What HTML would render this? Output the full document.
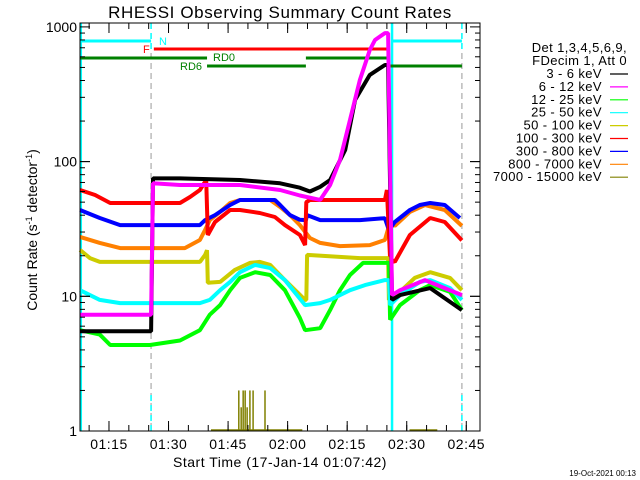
<!DOCTYPE html>
<html><head><meta charset="utf-8"><style>
html,body{margin:0;padding:0;background:#fff;}
svg{display:block;font-family:"Liberation Sans",sans-serif;}
</style></head><body>
<svg id="c" width="640" height="480" viewBox="0 0 640 480">
<text x="280" y="18" text-anchor="middle" font-size="17" letter-spacing="0.6">RHESSI Observing Summary Count Rates</text>
<g id="plot"></g>
<g id="axes"></g>
<text x="37" y="230" transform="rotate(-90 37 230)" text-anchor="middle" font-size="14">Count Rate (s<tspan baseline-shift="super" font-size="9">-1</tspan> detector<tspan baseline-shift="super" font-size="9">-1</tspan>)</text>
<text x="280" y="467" text-anchor="middle" font-size="14" letter-spacing="0.5">Start Time (17-Jan-14 01:07:42)</text>
<text x="636" y="476" text-anchor="end" font-size="8">19-Oct-2021 00:13</text>
<g id="legend"></g>
</svg>
<script>
// time in minutes after 01:07:42
const tBlack=[0,17.9,18.4,25.2,40.3,50.4,55.4,57.9,60.5,63.0,66.8,69.3,73.0,76.8,77.6,78.6,80.6,88.2,96.2];
const vBlack=[5.5,5.5,75,75,73,69,64,60,65,73,122,287,440,521,521,9.4,10.2,11.5,7.9];
const tMagenta=[0,17.9,18.4,25.2,40.3,50.4,55.4,60.5,63.0,65.5,68.0,70.5,73.0,74.3,76.8,77.6,78.6,80.6,86.9,96.2];
const vMagenta=[7.3,7.3,69,67,67,61.5,56,52,67,103,204,404,674,800,900,900,10.2,11.1,13.2,10.2];
const tGreen=[0,5,7.6,17.6,25.2,30.2,32.7,35.3,37.8,40.3,44.1,47.9,51.6,55.4,56.7,60.5,63.0,65.5,68.0,71.3,76.8,77.8,78.1,80.6,85.6,88.2,93.2,96.2];
const vGreen=[5.6,5.2,4.35,4.35,4.7,5.6,7.3,8.6,11.1,13.7,15.1,14.4,11.1,6.9,5.6,5.8,7.9,11.1,14.4,17.7,17.7,17.7,6.7,8.6,11.1,12.1,10.8,7.9];
const tCyan=[0,2.5,5,10.1,30.2,32.7,35.3,37.8,40.3,44.1,47.9,51.6,54.2,56.7,60.5,63.0,68.0,71.8,76.8,77.8,78.1,80.6,85.6,88.2,93.2,96.2];
const vCyan=[11.1,10.2,9.4,8.9,8.9,9.4,11.1,12.8,15.1,17.1,16.2,13.2,10.6,8.6,8.9,9.4,11.1,12.1,13.2,13.2,8.6,10.2,12.8,13.2,11.5,9.4];
const tYellow=[0,2.5,5,30.2,31.5,32.0,32.2,35.3,39.0,42.8,45.3,47.9,51.6,54.9,56.7,57.0,57.2,70.5,76.8,77.6,77.8,80.6,84.3,88.2,93.2,96.2];
const vYellow=[22.1,19.2,18,18,20.3,22,12.6,12.8,15.7,17.7,18,17.1,13.2,10.6,9.4,9.4,20.3,19.2,19.2,19.2,9.4,10.8,13.7,15.1,13.7,11.1];
const tRed=[0,3.8,7.6,25.2,27.7,30.2,31.8,32.2,34.0,37.8,40.3,45.3,49.1,51.6,55.4,56.7,57.0,57.9,70.5,76.8,77.3,78.1,79.3,83.1,88.2,91.9,96.2];
const vRed=[61.5,56.5,49.3,49.3,54.6,61.5,73,28.5,35.6,43.7,43.7,41.5,38.8,33.8,28.5,24,50,51.9,51.9,51.9,61.5,19,18,28.5,38.1,35.6,26];
const tBlue=[0,5,10.1,30.2,31.5,34.0,37.8,40.3,49.1,50.4,52.9,55.4,56.9,57.2,60.5,70.5,76.8,77.8,79.3,83.1,85.6,88.2,91.9,95.7];
const vBlue=[43.7,38.1,33.8,33.8,36.8,40.1,47.6,51.9,51.9,47.6,40.1,37,36.8,40.1,36.8,36.8,38,31,35.6,43.7,47.6,49.3,47.6,38.1];
const tOrange=[0,5,10.1,26.4,30.2,31.5,32.7,35.3,37.8,40.3,47.9,50.4,52.9,55.4,57.9,60.5,65.5,73.0,76.8,78.1,79.3,83.1,86.9,91.9,96.2];
const vOrange=[27.6,24.9,22.8,22.8,26.2,31.1,36.8,42.3,49.3,51.9,51.9,46,40.1,33.8,27.1,24.9,23.6,24,26.2,35.6,33.3,42.3,47.6,43.7,33.3];
const tOliveSpikes=[40.0,40.6,41.1,41.6,42.1,42.8,43.6,46.6];
const vOliveSpikes=[2,1.5,2,2,1.5,2,2,2];
const legendLabels=["3 - 6 keV","6 - 12 keV","12 - 25 keV","25 - 50 keV","50 - 100 keV","100 - 300 keV","300 - 800 keV","800 - 7000 keV","7000 - 15000 keV"];
const legendColors=["#000000","#ff00ff","#00ff00","#00ffff","#cccc00","#ff0000","#0000ff","#ff8000","#808000"];
const xTickLabels=["01:15","01:30","01:45","02:00","02:15","02:30","02:45"];
const xTickMinutes=[7.3,22.3,37.3,52.3,67.3,82.3,97.3];
const yTickValues=[1,10,100,1000];

const NS="http://www.w3.org/2000/svg";
const L=80,R=480,T=23,B=431;
const xS=t=>L+t*3.97;
const yS=v=>B-134.7*Math.log10(v);
function mk(tag,attrs,parent){const e=document.createElementNS(NS,tag);for(const k in attrs)e.setAttribute(k,attrs[k]);parent.appendChild(e);return e;}
const plot=document.getElementById('plot'),axes=document.getElementById('axes'),leg=document.getElementById('legend');

[17.9,96.2].forEach(t=>{
  const a=mk('line',{x1:xS(t),x2:xS(t),y1:T,y2:B,stroke:'#999',"stroke-width":1,"stroke-dasharray":"6,4"},plot);
  
  
  const b=mk('line',{x1:xS(t),x2:xS(t),y1:T,y2:50,stroke:'#00ffff',"stroke-width":1.5,"stroke-dasharray":"6,4"},plot);
  
  
  const c=mk('line',{x1:xS(t),x2:xS(t),y1:395,y2:B,stroke:'#00ffff',"stroke-width":1.5,"stroke-dasharray":"6,4"},plot);
  
  
});
[0.2,78.6].forEach(t=>{
  const a=mk('line',{x1:xS(t),x2:xS(t),y1:T,y2:B,stroke:'#00ffff',"stroke-width":2.5},plot);
  
  
});

const bars=[[0,17.9,41,'#00ffff','state-bar-n'],[78.8,96.2,41,'#00ffff','state-bar-n'],[18.6,78.1,49,'#ff0000','state-bar-f'],
[0,32.0,58,'#008000','state-bar-rd0'],[56.9,77.6,58,'#008000','state-bar-rd0'],[32.0,56.9,66,'#008000','state-bar-rd6'],[77.6,96.2,66,'#008000','state-bar-rd6']];
bars.forEach(b=>{
  const e=mk('line',{x1:xS(b[0]),x2:xS(b[1]),y1:b[2],y2:b[2],stroke:b[3],"stroke-width":3},plot);
  
  
});
[['N',159,45,'#00ffff'],['F',143,53,'#ff0000'],['RD0',213,61,'#008000'],['RD6',180,70,'#008000']].forEach(s=>{
  const e=mk('text',{x:s[1],y:s[2],fill:s[3],"font-size":11},plot);e.textContent=s[0];
  
  
});

[[33,56],[83,90]].forEach(r=>{
  const e=mk('line',{x1:xS(r[0]),x2:xS(r[1]),y1:B-1,y2:B-1,stroke:'#808000',"stroke-width":1.5},plot);
  
  
});
tOliveSpikes.forEach((t,i)=>{
  const e=mk('line',{x1:xS(t),x2:xS(t),y1:B,y2:yS(vOliveSpikes[i]),stroke:'#808000',"stroke-width":1.5},plot);
  
  
});

const series=[[tOrange,vOrange,'#ff8000','series-800-7000'],[tBlue,vBlue,'#0000ff','series-300-800'],[tRed,vRed,'#ff0000','series-100-300'],
[tYellow,vYellow,'#cccc00','series-50-100'],[tGreen,vGreen,'#00ff00','series-12-25'],[tCyan,vCyan,'#00ffff','series-25-50'],
[tBlack,vBlack,'#000000','series-3-6'],[tMagenta,vMagenta,'#ff00ff','series-6-12']];
series.forEach(s=>{
  const pts=s[0].map((t,i)=>xS(t).toFixed(1)+','+yS(s[1][i]).toFixed(1)).join(' ');
  const e=mk('polyline',{points:pts,fill:'none',stroke:s[2],"stroke-width":4,"stroke-linejoin":"bevel"},plot);
  
  
});

const fr=mk('rect',{x:L,y:T,width:R-L,height:B-T,fill:'none',stroke:'#000',"stroke-width":1},axes);


for(let d=0;d<3;d++){for(let m=1;m<10;m++){const v=m*Math.pow(10,d);const y=yS(v);const len=m===1?10:5;
  mk('line',{x1:L,x2:L+len,y1:y,y2:y,stroke:'#000'},axes);mk('line',{x1:R,x2:R-len,y1:y,y2:y,stroke:'#000'},axes);}}
yTickValues.forEach(v=>{const y=yS(v);mk('line',{x1:L,x2:L+10,y1:y,y2:y,stroke:'#000'},axes);mk('line',{x1:R,x2:R-10,y1:y,y2:y,stroke:'#000'},axes);
  const e=mk('text',{x:L-3,y:y+5,"text-anchor":"end","font-size":14},axes);e.textContent=String(v);
  
  });
for(let t=2.3;xS(t)<R;t+=5){const x=xS(t);mk('line',{x1:x,x2:x,y1:B,y2:B-6,stroke:'#000'},axes);mk('line',{x1:x,x2:x,y1:T,y2:T+6,stroke:'#000'},axes);}
xTickLabels.forEach((lab,i)=>{const x=xS(xTickMinutes[i]);mk('line',{x1:x,x2:x,y1:B,y2:B-10,stroke:'#000'},axes);mk('line',{x1:x,x2:x,y1:T,y2:T+10,stroke:'#000'},axes);
  const e=mk('text',{x:x,y:449,"text-anchor":"middle","font-size":14,"letter-spacing":"0.5"},axes);e.textContent=lab;
  
  });

[['Det 1,3,4,5,6,9,',627,52],['FDecim 1, Att 0',627,65]].forEach(h=>{const e=mk('text',{x:h[1],y:h[2],"text-anchor":"end","font-size":13,"letter-spacing":"0.4"},leg);e.textContent=h[0];
  
  });
legendLabels.forEach((lab,i)=>{const y=74+i*12.9;
  const e=mk('text',{x:602,y:y+4,"text-anchor":"end","font-size":13,"letter-spacing":"0.4"},leg);e.textContent=lab;
  
  
  const l=mk('line',{x1:610,x2:628,y1:y,y2:y,stroke:legendColors[i],"stroke-width":1.2},leg);
  
  });
</script>
</body></html>
